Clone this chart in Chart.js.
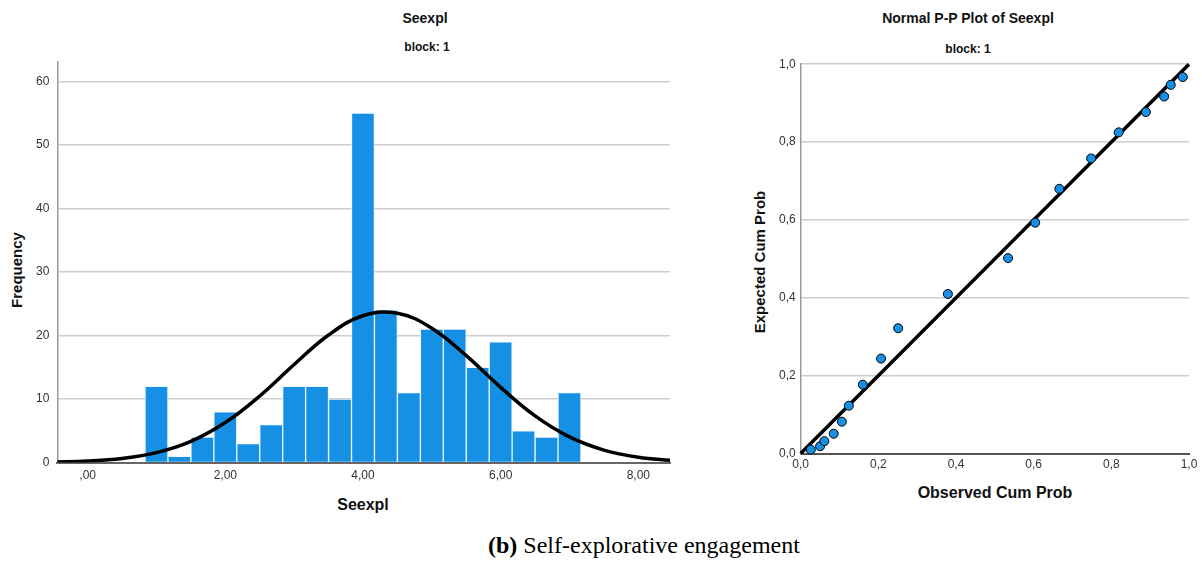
<!DOCTYPE html>
<html lang="en">
<head>
    <meta charset="UTF-8">
    <title>Seexpl</title>
    <script src="https://cdn.jsdelivr.net/npm/chart.js"></script>
    <style>
        body { margin: 0; background: #fff; width: 1202px; height: 562px; position: relative; overflow: hidden; font-family: "Liberation Sans", Arial, sans-serif; }
        .t { position: absolute; font-weight: bold; color: #111; white-space: nowrap; transform: translateX(-50%); }
        .rot { position: absolute; font-weight: bold; color: #111; white-space: nowrap; transform: translate(-50%, -50%) rotate(-90deg); }
        canvas { position: absolute; }
        #caption { position: absolute; left: 488px; top: 531px; line-height: 1.2; font-family: "Liberation Serif", "Times New Roman", serif; font-size: 24px; color: #000; white-space: nowrap; }
    </style>
</head>
<body>

    <div class="t" style="left:425px; top:10px; font-size:14px">Seexpl</div>
    <div class="t" style="left:427px; top:40px; font-size:12px">block: 1</div>
    <div class="rot" style="left:16px; top:270px; font-size:15px">Frequency</div>
    <div class="t" style="left:363px; top:496px; font-size:16px">Seexpl</div>
    <canvas id="histChart" width="680" height="451" style="left:0; top:47px"></canvas>

    <div class="t" style="left:968px; top:10px; font-size:14px">Normal P-P Plot of Seexpl</div>
    <div class="t" style="left:968px; top:42px; font-size:12px">block: 1</div>
    <div class="rot" style="left:759px; top:262px; font-size:15px">Expected Cum Prob</div>
    <div class="t" style="left:995px; top:484px; font-size:16px">Observed Cum Prob</div>
    <canvas id="ppChart" width="462" height="442" style="left:740px; top:52px"></canvas>

    <div id="caption"><b>(b)</b> Self-explorative engagement</div>

    <script>
        // histogram
        const binCenters = [1, 1.333, 1.667, 2, 2.333, 2.667, 3, 3.333, 3.667, 4, 4.333, 4.667, 5, 5.333, 5.667, 6, 6.333, 6.667, 7];
        const frequencies = [12, 1, 4, 8, 3, 6, 12, 12, 10, 55, 24, 11, 21, 21, 15, 19, 5, 4, 11];
        // normal curve
        const curveX = [-0.5, 0, 0.5, 1, 1.5, 2, 2.5, 3, 3.5, 4, 4.5, 5, 5.5, 6, 6.5, 7, 7.5, 8, 8.5];
        const curveY = [0.08, 0.24, 0.65, 1.57, 3.34, 6.3, 10.48, 15.43, 20.08, 23.11, 23.51, 21.15, 16.82, 11.83, 7.35, 4.04, 1.97, 0.84, 0.32];
        const histXTicks = [0, 2, 4, 6, 8];
        const histYTicks = [0, 10, 20, 30, 40, 50, 60];

        // P-P plot
        const observedProb = [0.026, 0.050, 0.061, 0.085, 0.106, 0.124, 0.160, 0.207, 0.251, 0.379, 0.534, 0.604, 0.666, 0.748, 0.819, 0.889, 0.936, 0.953, 0.984];
        const expectedProb = [0.010, 0.019, 0.032, 0.051, 0.082, 0.123, 0.177, 0.244, 0.322, 0.410, 0.502, 0.593, 0.680, 0.758, 0.825, 0.877, 0.917, 0.947, 0.967];
        const refLine = [0, 1];
        const ppTicks = [0, 0.2, 0.4, 0.6, 0.8, 1.0];

        const barBlue = '#1590e4';
        const tickFont = { family: 'Liberation Sans', size: 12 };
        const comma = (v, d) => v.toFixed(d).replace('.', ',');

        new Chart(document.getElementById('histChart'), {
            type: 'bar',
            data: {
                datasets: [{
                    type: 'line',
                    data: curveX.map((x, i) => ({ x: x, y: curveY[i] })),
                    borderColor: '#000',
                    borderWidth: 3.5,
                    pointRadius: 0,
                    tension: 0.4,
                    fill: false,
                    order: 0
                }, {
                    data: binCenters.map((x, i) => ({ x: x, y: frequencies[i] })),
                    backgroundColor: barBlue,
                    borderColor: 'rgba(235,245,255,0.9)',
                    borderWidth: 1,
                    barPercentage: 1,
                    categoryPercentage: 1,
                    order: 1
                }]
            },
            options: {
                responsive: false,
                animation: false,
                layout: { padding: { left: 28, right: 10, top: 10, bottom: 9 } },
                plugins: { legend: { display: false }, tooltip: { enabled: false } },
                scales: {
                    x: {
                        type: 'linear',
                        offset: false,
                        min: -0.44,
                        max: 8.46,
                        afterBuildTicks: s => { s.ticks = histXTicks.map(v => ({ value: v })); },
                        ticks: { font: tickFont, color: '#333', padding: 6, maxRotation: 0,
                            callback: v => v === 0 ? ',00' : comma(v, 2) },
                        grid: { display: false, drawTicks: false },
                        border: { display: true, color: '#666', width: 2 }
                    },
                    y: {
                        min: 0,
                        max: 63,
                        afterBuildTicks: s => { s.ticks = histYTicks.map(v => ({ value: v })); },
                        ticks: { font: tickFont, color: '#333', padding: 8 },
                        grid: { color: '#cdcdcd', lineWidth: 1.5, drawTicks: false },
                        border: { display: true, color: '#999', width: 1.5 }
                    }
                }
            }
        });

        new Chart(document.getElementById('ppChart'), {
            type: 'scatter',
            data: {
                datasets: [{
                    data: observedProb.map((x, i) => ({ x: x, y: expectedProb[i] })),
                    backgroundColor: barBlue,
                    borderColor: '#000',
                    borderWidth: 1,
                    pointRadius: 4.5,
                    order: 0
                }, {
                    type: 'line',
                    data: refLine.map(v => ({ x: v, y: v })),
                    borderColor: '#000',
                    borderWidth: 3.5,
                    pointRadius: 0,
                    order: 1
                }]
            },
            options: {
                responsive: false,
                animation: false,
                clip: false,
                layout: { padding: { left: 34, right: 13, top: 9, bottom: 18 } },
                plugins: { legend: { display: false }, tooltip: { enabled: false } },
                scales: {
                    x: {
                        type: 'linear',
                        min: 0,
                        max: 1,
                        afterBuildTicks: s => { s.ticks = ppTicks.map(v => ({ value: v })); },
                        ticks: { font: tickFont, color: '#333', padding: 4, maxRotation: 0,
                            callback: v => comma(v, 1) },
                        grid: { display: false, drawTicks: false },
                        border: { display: true, color: '#555', width: 2 }
                    },
                    y: {
                        min: 0,
                        max: 1,
                        afterBuildTicks: s => { s.ticks = ppTicks.map(v => ({ value: v })); },
                        ticks: { font: tickFont, color: '#333', padding: 5,
                            callback: v => comma(v, 1) },
                        grid: { color: '#cdcdcd', lineWidth: 1.5, drawTicks: false },
                        border: { display: true, color: '#999', width: 1.5 }
                    }
                }
            }
        });
    </script>
</body>

</html>
